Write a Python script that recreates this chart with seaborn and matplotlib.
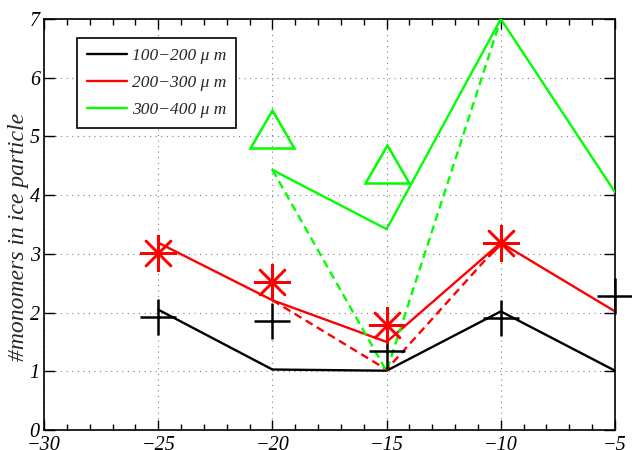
import numpy as np
import pandas as pd
import seaborn as sns
import matplotlib
matplotlib.use("Agg")
import matplotlib.pyplot as plt
from matplotlib.lines import Line2D
from matplotlib.markers import MarkerStyle
from matplotlib.transforms import Affine2D
from matplotlib.ticker import MultipleLocator

# Temperature (deg C) and mean number of monomers per ice particle
temps = [-25, -20, -15, -10, -5]
mono_100_200 = [2.05, 1.03, 1.01, 2.02, 1.01]
mono_200_300 = [3.19, 2.21, 1.50, 3.19, 2.02]
mono_300_400 = [np.nan, 4.43, 3.42, 7.00, 4.05]

# Alternative estimate around -15 deg C (dashed)
temps_mid = [-20, -15, -10]
alt_200_300 = [2.21, 1.03, 3.19]
alt_300_400 = [4.43, 1.00, 7.00]

# Observed values (markers)
obs_temps_100_200 = [-25, -20, -15, -10, -5]
obs_100_200 = [1.93, 1.86, 1.35, 1.91, 2.28]
obs_temps_200_300 = [-25, -20, -15, -10]
obs_200_300 = [3.01, 2.52, 1.79, 3.19]
obs_temps_300_400 = [-20, -15]
obs_300_400 = [5.12, 4.53]

labels = ["100\u2212200 \u03bc m", "200\u2212300 \u03bc m", "300\u2212400 \u03bc m"]
colors = ["#000000", "#ff0000", "#00ff00"]

xticks = [-30, -25, -20, -15, -10, -5]
yticks = [0, 1, 2, 3, 4, 5, 6, 7]

sns.set_theme(style="ticks")
plt.rcParams["font.family"] = ["Liberation Serif", "DejaVu Serif"]
plt.rcParams["font.style"] = "italic"
plt.rcParams["axes.unicode_minus"] = True

fig = plt.figure(figsize=(6.32, 4.5), dpi=100)
ax = fig.add_axes([44 / 632, 20 / 450, 571 / 632, 411 / 450])
ax.set_facecolor("white")

lw = 1.7
solid = pd.DataFrame({
    "T": temps * 3,
    "n": mono_100_200 + mono_200_300 + mono_300_400,
    "size": sum([[lab] * len(temps) for lab in labels], []),
})
for lab, col in zip(labels, colors):
    d = solid[solid["size"] == lab].dropna()
    sns.lineplot(data=d, x="T", y="n", color=col, lw=lw, ax=ax,
                 estimator=None, sort=False, zorder=3)

dashed = pd.DataFrame({"T": temps_mid * 2,
                       "n": alt_200_300 + alt_300_400,
                       "size": [labels[1]] * 3 + [labels[2]] * 3})
for lab, col in zip(labels[1:], colors[1:]):
    d = dashed[dashed["size"] == lab]
    sns.lineplot(data=d, x="T", y="n", color=col, lw=lw, ax=ax,
                 estimator=None, sort=False, dashes=False, zorder=3)
    ax.lines[-1].set_dashes((3.4, 2.1))

# Observation markers
ms = 26.5
mew = 1.8
ax.plot(obs_temps_100_200, obs_100_200, ls="none", marker="+", ms=ms,
        mew=mew, color=colors[0], clip_on=False, zorder=4)
ax.plot(obs_temps_200_300, obs_200_300, ls="none", marker=(8, 2, 0), ms=ms,
        mew=mew, color=colors[1], clip_on=False, zorder=4)
tri = MarkerStyle("^", transform=Affine2D().scale(1.17, 1.0))
ax.plot(obs_temps_300_400, obs_300_400, ls="none", marker=tri, ms=27,
        mew=mew, mfc="none", mec=colors[2], clip_on=False, zorder=4)

ax.set_xlim(-30, -5)
ax.set_ylim(0, 7)
ax.set_xticks(xticks)
ax.set_yticks(yticks)
ax.xaxis.set_minor_locator(MultipleLocator(1))
ax.tick_params(axis="both", which="both", direction="in", top=True, right=True,
               labelsize=14.5, colors="black", width=1.0)
ax.tick_params(axis="x", which="major", length=7, pad=4)
ax.tick_params(axis="x", which="minor", length=4)
ax.tick_params(axis="y", which="major", length=8, pad=3)
ax.tick_params(axis="y", which="minor", length=0)

for sp in ax.spines.values():
    sp.set_visible(True)
    sp.set_color("black")
    sp.set_linewidth(1.2)

ax.grid(True, which="major", color="0.5", linewidth=0.8, linestyle=(0, (1, 4)))
ax.set_axisbelow(True)

ax.set_xlabel("")
ax.set_ylabel("#monomers in ice particle", fontsize=17, style="italic")
ax.yaxis.set_label_coords(-0.027, 0.47)

handles = [Line2D([], [], color=c, lw=lw) for c in colors]
leg = ax.legend(handles, labels, loc="upper left", bbox_to_anchor=(0.058, 0.954),
                borderaxespad=0, fontsize=12.5, frameon=True, fancybox=False,
                edgecolor="black", handlelength=2.3, handletextpad=0.3,
                labelspacing=0.65, borderpad=0.55)
leg.get_frame().set_linewidth(1.2)
leg.get_frame().set_alpha(1)
leg.set_zorder(10)
for t in leg.get_texts():
    t.set_fontstyle("italic")

fig.savefig("out.png", dpi=100, facecolor="white")
